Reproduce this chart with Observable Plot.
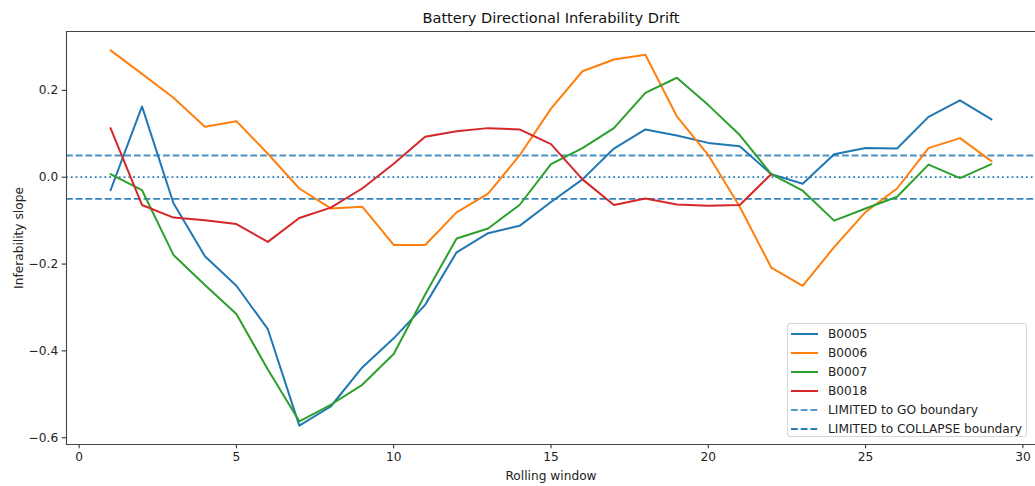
<!DOCTYPE html>
<html><head><meta charset="utf-8">
<script src="https://cdn.jsdelivr.net/npm/d3@7"></script>
<script src="https://cdn.jsdelivr.net/npm/@observablehq/plot@0.6"></script>
<style>
body{margin:0;background:#fff;font-family:"DejaVu Sans",sans-serif}
#wrap{position:relative;width:1035px;height:486px;overflow:hidden}
#legend{position:absolute;left:787px;top:323px;width:240px;height:114px;border:1px solid #d6d6d6;border-radius:3px;background:rgba(255,255,255,0.85);box-sizing:border-box;font-size:12.2px;color:#222}
.row{position:absolute;left:3px;height:18px;display:flex;align-items:center}
.row svg{width:28px;height:18px;margin-right:9px}
</style>
</head><body><div id="wrap"></div>
<script>
const batteries = ["B0005","B0006","B0007","B0018"];
const colors = ["#1f77b4","#ff7f0e","#2ca02c","#d62728"];
const B0005 = [-0.030,0.163,-0.060,-0.182,-0.250,-0.350,-0.572,-0.528,-0.438,-0.371,-0.294,-0.173,-0.129,-0.112,-0.057,-0.005,0.066,0.110,0.096,0.079,0.071,0.007,-0.015,0.053,0.067,0.066,0.139,0.177,0.133];
const B0006 = [0.292,0.238,0.183,0.116,0.129,0.054,-0.026,-0.072,-0.068,-0.156,-0.156,-0.081,-0.038,0.050,0.158,0.244,0.271,0.282,0.140,0.051,-0.068,-0.208,-0.250,-0.161,-0.080,-0.026,0.067,0.090,0.037];
const B0007 = [0.007,-0.030,-0.179,-0.248,-0.315,-0.443,-0.562,-0.524,-0.478,-0.407,-0.270,-0.141,-0.118,-0.064,0.030,0.067,0.113,0.194,0.229,0.166,0.097,0.007,-0.031,-0.100,-0.072,-0.045,0.029,-0.002,0.030];
const B0018 = [0.113,-0.064,-0.093,-0.099,-0.108,-0.149,-0.094,-0.070,-0.026,0.031,0.093,0.106,0.113,0.110,0.076,-0.005,-0.064,-0.049,-0.063,-0.066,-0.064,0.007];
const GO_BOUNDARY = 0.05;
const COLLAPSE_BOUNDARY = -0.05;
const ZERO = 0;
const xTicks = [0,5,10,15,20,25,30];
const yTicks = [-0.6,-0.4,-0.2,0.0,0.2];
const boundaryLabels = ["LIMITED to GO boundary","LIMITED to COLLAPSE boundary"];

const series = {B0005, B0006, B0007, B0018};
const rows = [];
for (const b of batteries) series[b].forEach((v,i) => rows.push({battery:b, window:i+1, slope:v}));

const lw = 2;
const chart = Plot.plot({
  width:1035, height:486,
  marginLeft:66, marginRight:0, marginTop:31, marginBottom:42,
  style:{fontFamily:"DejaVu Sans", fontSize:"12.2px", color:"#222", background:"#fff", overflow:"visible"},
  x:{domain:[-0.4,30.4]},
  y:{domain:[-0.6155,0.3355]},
  color:{domain:batteries, range:colors},
  marks:[
    Plot.ruleY([GO_BOUNDARY], {stroke:"#1f77b4", strokeOpacity:0.8, strokeWidth:1.9, strokeDasharray:"6.8,2.9"}),
    Plot.ruleY([COLLAPSE_BOUNDARY], {stroke:"#1f77b4", strokeOpacity:0.9, strokeWidth:1.9, strokeDasharray:"6.8,2.9"}),
    Plot.ruleY([ZERO], {stroke:"#1f77b4", strokeOpacity:0.95, strokeWidth:1.8, strokeDasharray:"1.8,3"}),
    Plot.line(rows, {x:"window", y:"slope", z:"battery", stroke:"battery", strokeWidth:lw, strokeLinejoin:"round"}),
    Plot.axisX({ticks:xTicks, tickSize:4.3, tickPadding:4, tickFormat:d3.format("d"), label:"Rolling window", labelAnchor:"center", labelArrow:"none", labelOffset:35}),
    Plot.axisY({ticks:yTicks, tickSize:4.3, tickPadding:4, tickFormat:d3.format(".1f"), label:"Inferability slope", labelAnchor:"center", labelArrow:"none", labelOffset:52}),
    Plot.frame({anchor:"left", stroke:"#444", strokeWidth:1.1}),
    Plot.frame({anchor:"top", stroke:"#444", strokeWidth:1.1}),
    Plot.frame({anchor:"bottom", stroke:"#444", strokeWidth:1.1}),
    Plot.text(["Battery Directional Inferability Drift"], {frameAnchor:"top", lineAnchor:"middle", dy:-13, fontSize:14.6, fill:"#111"})
  ]
});
const wrap = document.getElementById("wrap");
wrap.appendChild(chart);

const legend = document.createElement("div");
legend.id = "legend";
const entries = batteries.map((b,i)=>({label:b, color:colors[i], dash:null, op:1}))
  .concat([{label:boundaryLabels[0], color:"#1f77b4", dash:"6.8,2.9", op:0.75},
           {label:boundaryLabels[1], color:"#1f77b4", dash:"6.8,2.9", op:0.95}]);
entries.forEach((e,i)=>{
  const r = document.createElement("div");
  r.className = "row";
  r.style.top = (1 + i*18.9) + "px";
  r.innerHTML = `<svg><line x1="0" x2="27" y1="9" y2="9" stroke="${e.color}" stroke-opacity="${e.op}" stroke-width="${lw}" ${e.dash?`stroke-dasharray="${e.dash}"`:""}/></svg><span>${e.label}</span>`;
  legend.appendChild(r);
});
wrap.appendChild(legend);
</script>
</body></html>
